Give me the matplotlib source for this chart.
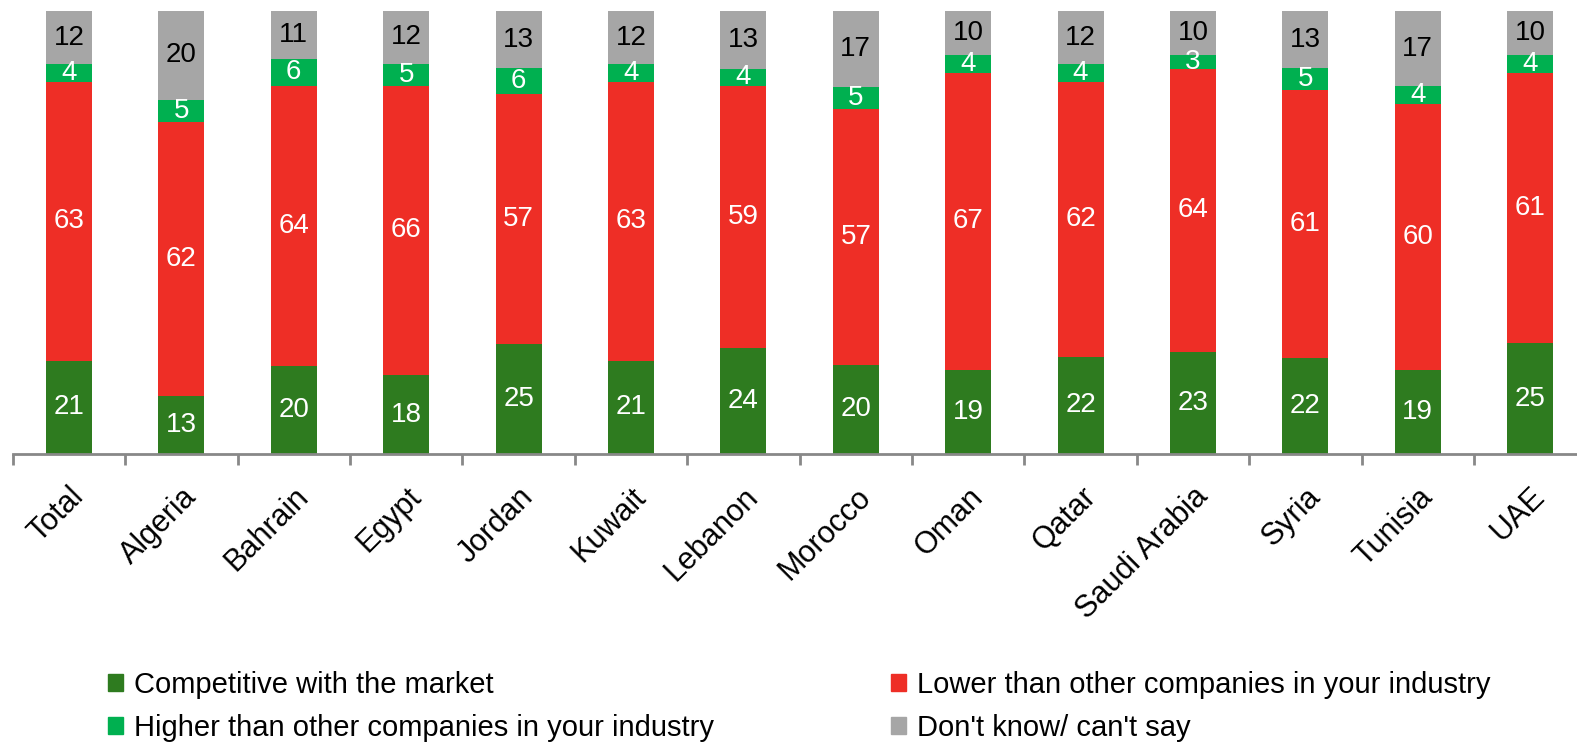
import matplotlib
matplotlib.use("Agg")
import matplotlib.pyplot as plt
from matplotlib.patches import Patch
import numpy as np

plt.rcParams['font.family'] = ['Liberation Sans', 'DejaVu Sans']

countries = ["Total", "Algeria", "Bahrain", "Egypt", "Jordan", "Kuwait", "Lebanon",
             "Morocco", "Oman", "Qatar", "Saudi Arabia", "Syria", "Tunisia", "UAE"]
competitive = [21, 13, 20, 18, 25, 21, 24, 20, 19, 22, 23, 22, 19, 25]
lower = [63, 62, 64, 66, 57, 63, 59, 57, 67, 62, 64, 61, 60, 61]
higher = [4, 5, 6, 5, 6, 4, 4, 5, 4, 4, 3, 5, 4, 4]
dont_know = [12, 20, 11, 12, 13, 12, 13, 17, 10, 12, 10, 13, 17, 10]

series = [
    ("Competitive with the market", competitive, "#2E7B1F", "white"),
    ("Lower than other companies in your industry", lower, "#EE2E26", "white"),
    ("Higher than other companies in your industry", higher, "#00B050", "white"),
    ("Don't know/ can't say", dont_know, "#A6A6A6", "black"),
]

fig = plt.figure(figsize=(15.77, 7.42), dpi=100)
ax = fig.add_axes([12.8 / 1577, 1 - 454 / 742, 14 * 112.4 / 1577, 443 / 742])

x = np.arange(len(countries))
totals = np.sum([s[1] for s in series], axis=0)
bottom = np.zeros(len(countries))
for name, vals, color, tcol in series:
    vals = np.array(vals, dtype=float)
    h = vals / totals * 100  # 100% stacked
    ax.bar(x, h, 0.41, bottom=bottom, color=color, label=name)
    for xi, b, hi, v in zip(x, bottom, h, vals):
        ax.text(xi, b + hi / 2, f"{int(v)}", ha="center", va="center",
                color=tcol, fontsize=20)
    bottom += h

ax.set_xlim(-0.5, len(countries) - 0.5)
ax.set_ylim(0, 100)
for s in ["left", "right", "top"]:
    ax.spines[s].set_visible(False)
ax.spines["bottom"].set_color("#888888")
ax.spines["bottom"].set_linewidth(2)
ax.set_yticks([])

ax.set_xticks(x)
ax.set_xticklabels(countries, rotation=45, ha="right", va="top",
                   rotation_mode="anchor", fontsize=22)
ax.tick_params(axis="x", which="major", length=0, pad=20)
ax.set_xticks(np.arange(-0.5, len(countries), 1), minor=True)
ax.tick_params(axis="x", which="minor", length=8, width=2, color="#888888")

handles = [Patch(color=s[2]) for s in series]
labels = [s[0] for s in series]
leg_kw = dict(frameon=False, fontsize=21, handlelength=0.5, handleheight=0.5,
              handletextpad=0.4, labelspacing=0.5, borderaxespad=0, borderpad=0)
fig.legend([handles[0], handles[2]], [labels[0], labels[2]],
           loc="upper left", bbox_to_anchor=(108 / 1577, 1 - 671 / 742), **leg_kw)
fig.legend([handles[1], handles[3]], [labels[1], labels[3]],
           loc="upper left", bbox_to_anchor=(891 / 1577, 1 - 671 / 742), **leg_kw)

fig.savefig("out.png", dpi=100)
